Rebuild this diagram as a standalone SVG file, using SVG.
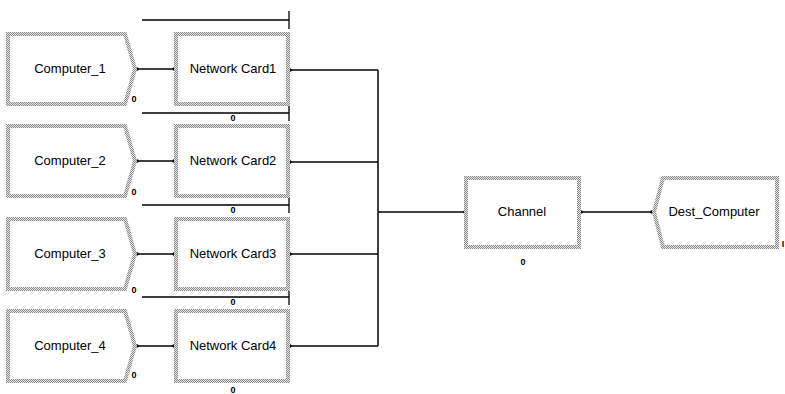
<svg xmlns="http://www.w3.org/2000/svg" width="785" height="394" viewBox="0 0 785 394">
<defs>
<pattern id="chk" width="2" height="2" patternUnits="userSpaceOnUse">
<rect width="2" height="2" fill="#e6e6e6"/>
<rect width="1" height="1" fill="#8a8a8a"/>
<rect x="1" y="1" width="1" height="1" fill="#8a8a8a"/>
</pattern>
<marker id="dot" viewBox="0 0 4 4" refX="2" refY="2" markerWidth="4" markerHeight="4" markerUnits="userSpaceOnUse">
<circle cx="2" cy="2" r="1.8" fill="#000"/>
</marker>
</defs>
<style>
.box{fill:#fff;stroke:url(#chk);stroke-width:4}
.lbl{font-family:"Liberation Sans",Arial,sans-serif;font-size:13px;fill:#000;text-anchor:middle}
.num{font-family:"Liberation Sans",Arial,sans-serif;font-size:9px;font-weight:bold;fill:#000;text-anchor:middle}
.ln{stroke:#000;stroke-width:1.3;fill:none}
.cn{stroke:#000;stroke-width:1.3;fill:none;marker-start:url(#dot);marker-end:url(#dot)}
.bus{stroke:#000;stroke-width:1.5;fill:none}
</style>
<rect width="785" height="394" fill="#fff"/>

<g id="connectors">
<path class="cn" d="M137,69 H174"/>
<path class="cn" d="M137,161 H174"/>
<path class="cn" d="M137,254 H174"/>
<path class="cn" d="M137,346 H174"/>
<path class="ln" d="M290,70 H378" marker-start="url(#dot)"/>
<path class="ln" d="M290,162 H378" marker-start="url(#dot)"/>
<path class="ln" d="M290,254 H378" marker-start="url(#dot)"/>
<path class="ln" d="M290,346 H378" marker-start="url(#dot)"/>
<path class="bus" d="M378,70 V346"/>
<path class="ln" d="M378,212 H465" marker-end="url(#dot)"/>
<path class="cn" d="M581,212 H652"/>
</g>

<g id="resource-lines">
<path class="ln" d="M142,20 H289 M289,11 V29"/>
<path class="ln" d="M142,113 H289 M289,105 V121"/>
<path class="ln" d="M142,205 H289 M289,197 V213"/>
<path class="ln" d="M142,297 H289 M289,289 V305"/>
<text class="num" x="233" y="121">0</text>
<text class="num" x="233" y="213">0</text>
<text class="num" x="233" y="305">0</text>
<text class="num" x="233" y="393">0</text>
</g>

<g id="computer1">
<path class="box" d="M8,34 H125 L135,69 L125,104 H8 Z"/>
<text class="lbl" x="70" y="73">Computer_1</text>
<text class="num" x="134" y="102">0</text>
</g>
<g id="computer2">
<path class="box" d="M8,126 H125 L135,161 L125,196 H8 Z"/>
<text class="lbl" x="70" y="165">Computer_2</text>
<text class="num" x="134" y="195">0</text>
</g>
<g id="computer3">
<path class="box" d="M8,219 H125 L135,254 L125,289 H8 Z"/>
<text class="lbl" x="70" y="258">Computer_3</text>
<text class="num" x="134" y="293">0</text>
</g>
<g id="computer4">
<path class="box" d="M8,311 H125 L135,346 L125,381 H8 Z"/>
<text class="lbl" x="70" y="350">Computer_4</text>
<text class="num" x="134" y="378">0</text>
</g>

<g id="card1">
<rect class="box" x="176" y="34" width="112" height="70"/>
<text class="lbl" x="233" y="73">Network Card1</text>
</g>
<g id="card2">
<rect class="box" x="176" y="126" width="112" height="70"/>
<text class="lbl" x="233" y="165">Network Card2</text>
</g>
<g id="card3">
<rect class="box" x="176" y="219" width="112" height="70"/>
<text class="lbl" x="233" y="258">Network Card3</text>
</g>
<g id="card4">
<rect class="box" x="176" y="311" width="112" height="70"/>
<text class="lbl" x="233" y="350">Network Card4</text>
</g>

<g id="channel">
<rect class="box" x="466" y="178" width="113" height="69"/>
<text class="lbl" x="522" y="216">Channel</text>
<text class="num" x="523" y="265">0</text>
</g>

<g id="dest">
<path class="box" d="M663,178 H777 V247 H663 L654,212 Z"/>
<text class="lbl" x="714" y="216">Dest_Computer</text>
<text class="num" x="783" y="247">I</text>
</g>
</svg>
